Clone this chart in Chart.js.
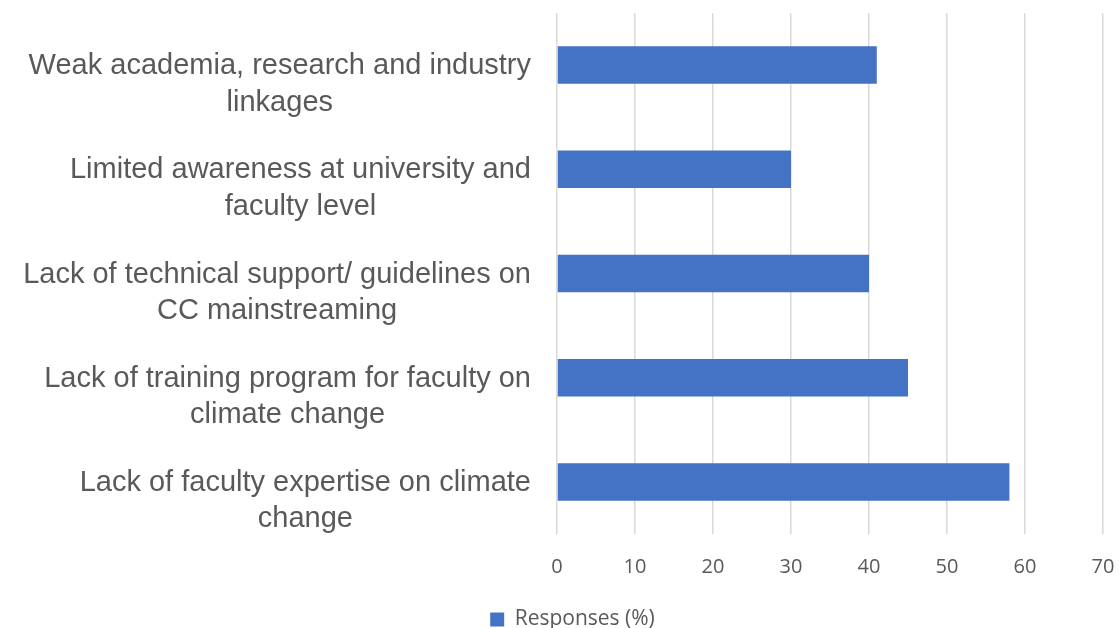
<!DOCTYPE html>
<html>
<head>
<meta charset="utf-8">
<script src="https://cdn.jsdelivr.net/npm/chart.js@4/dist/chart.umd.min.js"></script>
<style>
html,body{margin:0;padding:0;background:#fff;}
#wrap{width:1119px;height:628px;position:relative;}
</style>
</head>
<body>
<div id="wrap"><canvas id="c" width="1119" height="628"></canvas></div>
<script>
const categories = [
  ["Weak academia, research and industry", "linkages"],
  ["Limited awareness at university and", "faculty level"],
  ["Lack of technical support/ guidelines on", "CC mainstreaming"],
  ["Lack of training program for faculty on", "climate change"],
  ["Lack of faculty expertise on climate", "change"]
];
const responses = [41, 30, 40, 45, 58];
const seriesName = "Responses (%)";
const xMin = 0, xMax = 70, xStep = 10;

const TEXT = '#595959';
const LABEL_FONT = '29px "Liberation Sans", Arial, sans-serif';
const LINE_H = 36.5;

const catLabelPlugin = {
  id: 'catLabels',
  afterLayout(chart) {
    // shift the legend row slightly right, as in the original
    if (chart.legend) { chart.legend.left += 42; }
  },
  afterDraw(chart) {
    const ctx = chart.ctx;
    const ys = chart.scales.y;
    const right = ys.right - 26;
    ctx.save();
    ctx.font = LABEL_FONT;
    ctx.fillStyle = TEXT;
    ctx.textAlign = 'center';
    ctx.textBaseline = 'middle';
    categories.forEach((lines, i) => {
      const y = ys.getPixelForValue(i) + 1;
      const w = Math.max(...lines.map(l => ctx.measureText(l).width));
      const cx = right - w / 2;
      lines.forEach((l, j) => ctx.fillText(l, cx, y + j * LINE_H));
    });
    ctx.restore();
  }
};

new Chart(document.getElementById('c'), {
  type: 'bar',
  data: {
    labels: categories,
    datasets: [{
      label: seriesName,
      data: responses,
      backgroundColor: '#4472C4',
      borderWidth: 0,
      barPercentage: 0.72,
      categoryPercentage: 0.5
    }]
  },
  options: {
    indexAxis: 'y',
    responsive: false,
    animation: false,
    devicePixelRatio: 1,
    layout: { padding: { top: 13, right: 16, left: 0, bottom: -12 } },
    plugins: {
      legend: {
        position: 'bottom',
        labels: {
          boxWidth: 14, boxHeight: 14, padding: 5,
          color: TEXT,
          font: { family: '"Open Sans", sans-serif', size: 21 }
        }
      },
      tooltip: { enabled: false }
    },
    scales: {
      x: {
        min: xMin, max: xMax,
        ticks: {
          stepSize: xStep, color: TEXT, padding: 21,
          font: { family: '"Open Sans", sans-serif', size: 20, lineHeight: 1.2 }
        },
        grid: { color: '#D9D9D9', lineWidth: 1.5, drawTicks: false },
        border: { display: false },
        afterFit(scale) { scale.height = 70; scale.paddingLeft = 0; scale.paddingRight = 0; }
      },
      y: {
        ticks: { display: false },
        grid: { display: false, drawTicks: false },
        border: { display: false },
        afterFit(scale) { scale.width = 557; scale.paddingTop = 0; scale.paddingBottom = 0; }
      }
    }
  },
  plugins: [catLabelPlugin]
});
</script>
</body>
</html>
